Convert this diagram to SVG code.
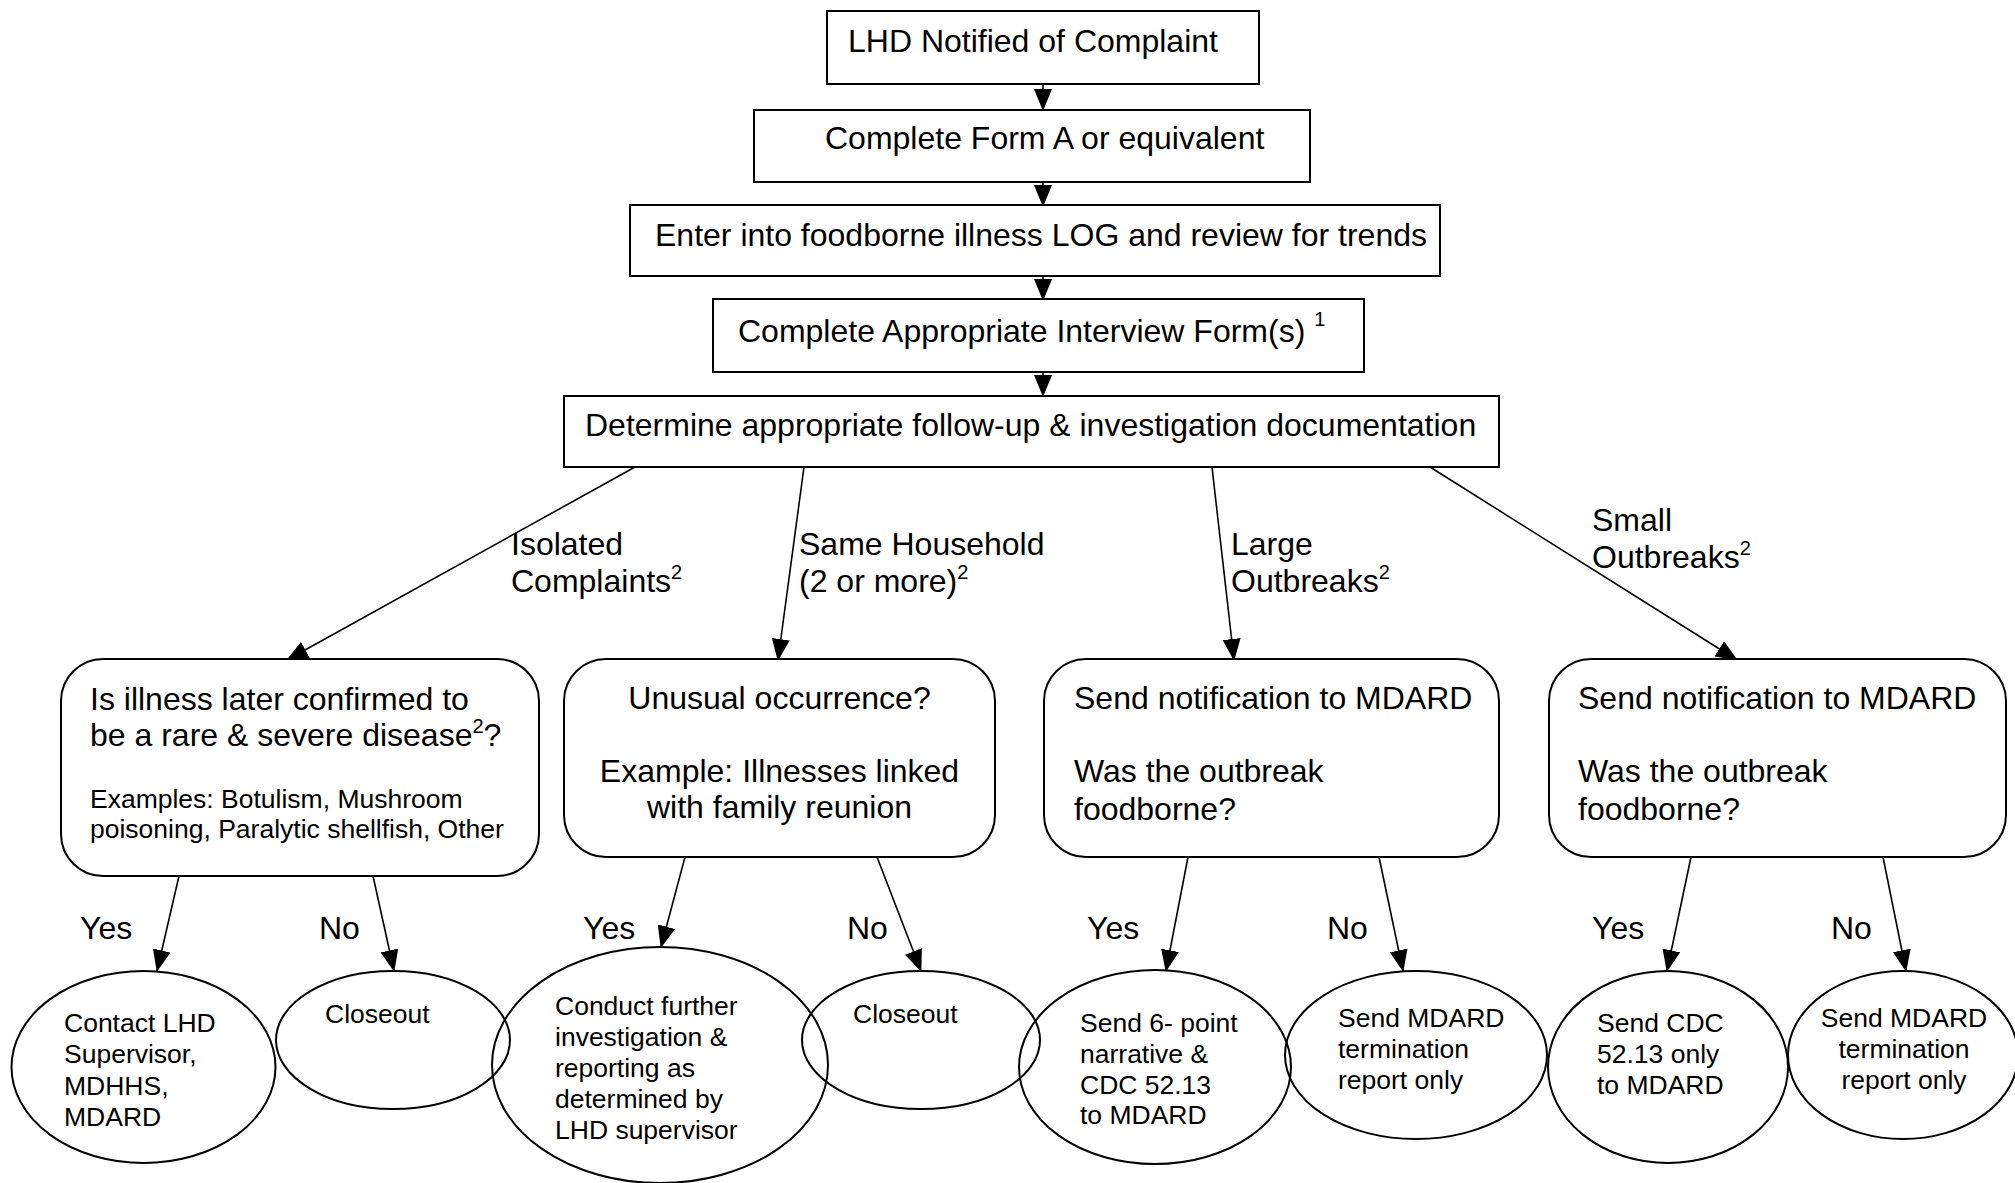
<svg xmlns="http://www.w3.org/2000/svg" width="2015" height="1183" viewBox="0 0 2015 1183">
<style>
  text { font-family: "Liberation Sans", Arial, sans-serif; fill: #000; }
  .t32 { font-size: 32px; }
  .t26 { font-size: 26.5px; }
  .box { fill: #fff; stroke: #000; stroke-width: 2; }
  .dec { fill: #fff; stroke: #000; stroke-width: 2; }
  .ell { fill: none; stroke: #000; stroke-width: 2; }
  .conn line { stroke: #000; stroke-width: 1.6; marker-end: url(#arr); }
</style>
<defs>
  <marker id="arr" markerUnits="userSpaceOnUse" markerWidth="22" markerHeight="18" viewBox="0 0 22 18" refX="21" refY="9" orient="auto">
    <path d="M0,0 L22,9 L0,18 z" fill="#000"/>
  </marker>
</defs>
<rect width="2015" height="1183" fill="#fff"/>

<g id="connectors" class="conn">
  <line x1="1043" y1="84" x2="1043" y2="110"/>
  <line x1="1043" y1="182" x2="1043" y2="206"/>
  <line x1="1043" y1="276" x2="1043" y2="300"/>
  <line x1="1043" y1="372" x2="1043" y2="396"/>
  <line x1="635" y1="467" x2="287" y2="660"/>
  <line x1="804" y1="467" x2="778" y2="660"/>
  <line x1="1212" y1="467" x2="1234" y2="660"/>
  <line x1="1430" y1="467" x2="1737" y2="660"/>
  <line x1="179" y1="876" x2="157" y2="971"/>
  <line x1="373" y1="876" x2="394" y2="971"/>
  <line x1="685" y1="857" x2="661" y2="947"/>
  <line x1="877" y1="857" x2="921" y2="971"/>
  <line x1="1188" y1="857" x2="1166" y2="971"/>
  <line x1="1379" y1="857" x2="1403" y2="971"/>
  <line x1="1691" y1="857" x2="1667" y2="971"/>
  <line x1="1883" y1="857" x2="1906" y2="971"/>
</g>

<g id="edge-labels" class="t32">
  <text class="t32" x="511" y="555">Isolated</text>
  <text class="t32" x="511" y="592">Complaints<tspan font-size="20" dy="-13">2</tspan></text>
  <text class="t32" x="799" y="555">Same Household</text>
  <text class="t32" x="799" y="592">(2 or more)<tspan font-size="20" dy="-13">2</tspan></text>
  <text class="t32" x="1231" y="555">Large</text>
  <text class="t32" x="1231" y="592">Outbreaks<tspan font-size="20" dy="-13">2</tspan></text>
  <text class="t32" x="1592" y="531">Small</text>
  <text class="t32" x="1592" y="568">Outbreaks<tspan font-size="20" dy="-13">2</tspan></text>
  <text class="t32" x="80" y="939">Yes</text>
  <text class="t32" x="319" y="939">No</text>
  <text class="t32" x="583" y="939">Yes</text>
  <text class="t32" x="847" y="939">No</text>
  <text class="t32" x="1087" y="939">Yes</text>
  <text class="t32" x="1327" y="939">No</text>
  <text class="t32" x="1592" y="939">Yes</text>
  <text class="t32" x="1831" y="939">No</text>
</g>

<g id="n1">
  <rect class="box" x="827" y="11" width="432" height="73"/>
  <text class="t32" x="848" y="52">LHD Notified of Complaint</text>
</g>
<g id="n2">
  <rect class="box" x="754" y="110" width="556" height="72"/>
  <text class="t32" x="825" y="149">Complete Form A or equivalent</text>
</g>
<g id="n3">
  <rect class="box" x="630" y="205" width="810" height="71"/>
  <text class="t32" x="655" y="246">Enter into foodborne illness LOG and review for trends</text>
</g>
<g id="n4">
  <rect class="box" x="713" y="299" width="651" height="73"/>
  <text class="t32" x="738" y="342">Complete Appropriate Interview Form(s) <tspan font-size="20" dy="-16">1</tspan></text>
</g>
<g id="n5">
  <rect class="box" x="564" y="396" width="935" height="71"/>
  <text class="t32" x="585" y="436">Determine appropriate follow-up &amp; investigation documentation</text>
</g>

<g id="d1">
  <rect class="dec" x="61" y="659" width="478" height="217" rx="42" ry="42"/>
  <text class="t32" x="90" y="710">Is illness later confirmed to</text>
  <text class="t32" x="90" y="746">be a rare &amp; severe disease<tspan font-size="20" dy="-13">2</tspan><tspan dy="13">?</tspan></text>
  <text class="t26" x="90" y="808">Examples: Botulism, Mushroom</text>
  <text class="t26" x="90" y="838">poisoning, Paralytic shellfish, Other</text>
</g>
<g id="d2">
  <rect class="dec" x="564" y="659" width="431" height="198" rx="42" ry="42"/>
  <text class="t32" x="779.5" y="709" text-anchor="middle">Unusual occurrence?</text>
  <text class="t32" x="779.5" y="782" text-anchor="middle">Example: Illnesses linked</text>
  <text class="t32" x="779.5" y="818" text-anchor="middle">with family reunion</text>
</g>
<g id="d3">
  <rect class="dec" x="1044" y="659" width="455" height="198" rx="42" ry="42"/>
  <text class="t32" x="1074" y="709">Send notification to MDARD</text>
  <text class="t32" x="1074" y="782">Was the outbreak</text>
  <text class="t32" x="1074" y="820">foodborne?</text>
</g>
<g id="d4">
  <rect class="dec" x="1549" y="659" width="457" height="198" rx="42" ry="42"/>
  <text class="t32" x="1578" y="709">Send notification to MDARD</text>
  <text class="t32" x="1578" y="782">Was the outbreak</text>
  <text class="t32" x="1578" y="820">foodborne?</text>
</g>

<g id="e1">
  <ellipse class="ell" cx="143.5" cy="1067" rx="132" ry="96"/>
  <text class="t26" x="64" y="1032">Contact LHD</text>
  <text class="t26" x="64" y="1063">Supervisor,</text>
  <text class="t26" x="64" y="1095">MDHHS,</text>
  <text class="t26" x="64" y="1126">MDARD</text>
</g>
<g id="e2">
  <ellipse class="ell" cx="393" cy="1040" rx="117" ry="69"/>
  <text class="t26" x="325" y="1023">Closeout</text>
</g>
<g id="e3">
  <ellipse class="ell" cx="660" cy="1065" rx="168" ry="118"/>
  <text class="t26" x="555" y="1015">Conduct further</text>
  <text class="t26" x="555" y="1046">investigation &amp;</text>
  <text class="t26" x="555" y="1077">reporting as</text>
  <text class="t26" x="555" y="1108">determined by</text>
  <text class="t26" x="555" y="1139">LHD supervisor</text>
</g>
<g id="e4">
  <ellipse class="ell" cx="921" cy="1040" rx="119" ry="69"/>
  <text class="t26" x="853" y="1023">Closeout</text>
</g>
<g id="e5">
  <ellipse class="ell" cx="1155" cy="1067" rx="136" ry="97"/>
  <text class="t26" x="1080" y="1032">Send 6- point</text>
  <text class="t26" x="1080" y="1063">narrative &amp;</text>
  <text class="t26" x="1080" y="1094">CDC 52.13</text>
  <text class="t26" x="1080" y="1124">to MDARD</text>
</g>
<g id="e6">
  <ellipse class="ell" cx="1416" cy="1055" rx="131" ry="84"/>
  <text class="t26" x="1338" y="1027">Send MDARD</text>
  <text class="t26" x="1338" y="1058">termination</text>
  <text class="t26" x="1338" y="1089">report only</text>
</g>
<g id="e7">
  <ellipse class="ell" cx="1668" cy="1067" rx="120" ry="96"/>
  <text class="t26" x="1597" y="1032">Send CDC</text>
  <text class="t26" x="1597" y="1063">52.13 only</text>
  <text class="t26" x="1597" y="1094">to MDARD</text>
</g>
<g id="e8">
  <ellipse class="ell" cx="1903" cy="1055" rx="115" ry="84"/>
  <text class="t26" x="1904" y="1027" text-anchor="middle">Send MDARD</text>
  <text class="t26" x="1904" y="1058" text-anchor="middle">termination</text>
  <text class="t26" x="1904" y="1089" text-anchor="middle">report only</text>
</g>
</svg>
